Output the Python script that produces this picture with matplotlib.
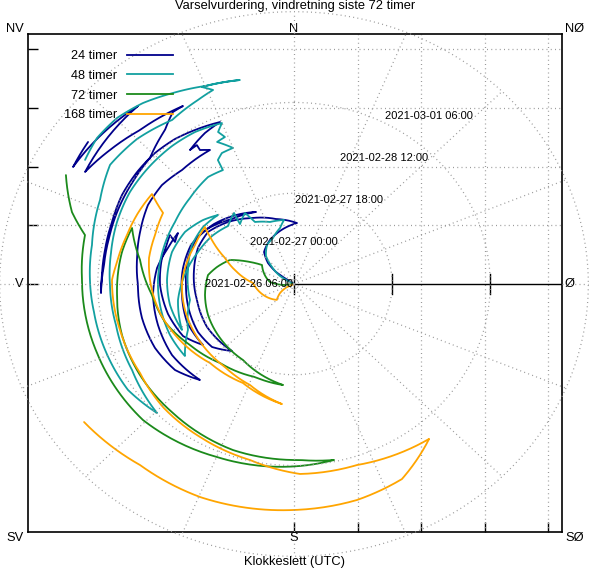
import numpy as np
import matplotlib
matplotlib.use("Agg")
import matplotlib.pyplot as plt
from matplotlib.path import Path
from matplotlib.patches import PathPatch
from matplotlib.lines import Line2D

plt.rcParams["font.family"] = ["Liberation Sans", "DejaVu Sans"]

# ---------------- texts ----------------
TITLE = "Varselvurdering, vindretning siste 72 timer"
XLABEL = "Klokkeslett (UTC)"
series_labels = ["24 timer", "48 timer", "72 timer", "168 timer"]
series_colors = ["#00008b", "#12a0a0", "#1b8a1b", "#ffa500"]
time_labels = ["2021-02-26 06:00", "2021-02-27 00:00", "2021-02-27 18:00",
               "2021-02-28 12:00", "2021-03-01 06:00"]
compass_top = ["NV", "N", "NØ"]
compass_mid = ["V", "Ø"]
compass_bottom = ["SV", "S", "SØ"]

# ---------------- data: wind direction (deg, clockwise from N) and radius ----------------
dir_24 = [304.0, 304.0, 305.8, 311.1, 319.1, 333.2, 349.5, 362.6, 345.6, 329.5,
          315.4, 303.2, 292.1, 278.6, 259.9, 241.9, 220.6, 230.3, 241.6, 255.0,
          269.4, 284.9, 297.1, 309.0, 322.1, 334.0, 318.6, 304.3, 292.3, 278.8,
          264.0, 249.0, 234.1, 243.1, 255.6, 269.5, 282.0, 287.4, 293.1, 290.9,
          295.4, 287.2, 277.2, 265.2, 252.0, 237.8, 222.2, 232.0, 243.6, 256.4,
          269.6, 280.2, 290.1, 300.3, 309.0, 317.7, 329.9, 327.0, 327.1, 324.3,
          331.4, 337.1, 329.3, 322.8, 315.5, 307.6, 299.2, 290.2, 281.0, 272.9,
          267.1, 276.2, 285.1, 294.4, 304.0, 313.4, 322.2, 326.9, 330.0, 317.2,
          308.2, 300.1, 321.0, 299.8, 306.7]
r_24 = [0.0, 0.152, 0.349, 0.543, 0.721, 0.839, 0.952, 1.039, 1.142, 1.303,
        1.481, 1.618, 1.632, 1.593, 1.552, 1.553, 1.501, 1.678, 1.719, 1.712,
        1.701, 1.727, 1.717, 1.622, 1.487, 1.364, 1.475, 1.659, 1.753, 1.769,
        1.774, 1.805, 1.769, 1.959, 2.049, 2.110, 2.126, 2.112, 2.124, 2.006,
        2.023, 2.077, 2.174, 2.228, 2.253, 2.270, 2.205, 2.378, 2.445, 2.463,
        2.457, 2.511, 2.581, 2.664, 2.676, 2.622, 2.637, 2.719, 2.816, 2.808,
        2.928, 2.993, 3.050, 3.099, 3.125, 3.121, 3.104, 3.054, 3.032, 3.028,
        3.043, 3.009, 3.016, 3.045, 3.076, 3.122, 3.316, 3.494, 3.498, 3.571,
        3.688, 3.803, 3.901, 4.009, 4.045]

dir_48 = [298.5, 298.5, 301.7, 309.9, 317.2, 327.4, 337.1, 347.0, 351.8, 340.3,
          329.8, 327.4, 320.2, 322.0, 313.5, 302.3, 289.8, 276.8, 261.5, 246.1,
          259.6, 271.9, 285.8, 297.3, 307.2, 314.4, 304.1, 292.5, 278.1, 260.6,
          244.9, 234.5, 246.0, 260.4, 271.8, 285.7, 299.4, 311.8, 323.4, 330.0,
          330.4, 333.0, 337.5, 333.4, 336.5, 335.2, 337.5, 328.9, 320.7, 311.5,
          301.2, 290.7, 280.4, 269.7, 256.0, 240.1, 224.5, 235.4, 248.7, 261.4,
          271.2, 281.8, 295.1, 305.0, 315.0, 325.5, 334.2, 338.9, 336.6, 346.2,
          337.4, 329.6, 322.3, 315.4, 308.7, 302.7]
r_48 = [0.0, 0.107, 0.259, 0.451, 0.650, 0.788, 0.850, 0.978, 1.100, 1.121,
        1.221, 1.434, 1.328, 1.534, 1.433, 1.528, 1.607, 1.713, 1.847, 1.930,
        1.985, 2.001, 1.997, 1.932, 1.800, 1.677, 1.730, 1.738, 1.686, 1.660,
        1.844, 2.110, 2.137, 2.140, 2.143, 2.143, 2.151, 2.197, 2.269, 2.239,
        2.427, 2.502, 2.507, 2.704, 2.728, 2.850, 2.965, 3.020, 3.034, 3.030,
        3.021, 2.980, 2.930, 2.898, 2.889, 2.941, 3.078, 3.176, 3.179, 3.186,
        3.214, 3.250, 3.373, 3.536, 3.493, 3.388, 3.478, 3.540, 3.653, 3.575,
        3.650, 3.769, 3.892, 3.969, 3.975, 3.910]

dir_72 = [263.2, 263.2, 275.1, 302.7, 298.4, 292.1, 283.4, 276.4, 262.4, 248.7,
          231.7, 211.8, 185.7, 201.2, 220.9, 237.6, 252.3, 265.2, 279.6, 290.5,
          281.4, 266.2, 252.2, 237.4, 221.0, 198.8, 178.2, 168.1, 178.3, 202.4,
          225.8, 249.3, 261.5, 271.2, 284.2, 289.3, 297.3]
r_72 = [0.0, 0.143, 0.380, 0.599, 0.788, 1.088, 1.247, 1.363, 1.414, 1.453,
        1.484, 1.523, 1.728, 1.698, 1.779, 1.939, 2.132, 2.244, 2.459, 2.723,
        2.763, 2.793, 2.845, 2.878, 2.908, 2.985, 2.997, 3.061, 3.099, 3.185,
        3.319, 3.317, 3.328, 3.339, 3.395, 3.705, 4.042]

dir_168 = [245.0, 245.0, 235.0, 225.0, 242.0, 271.5, 282.8, 292.2, 299.3, 304.7,
           293.1, 282.5, 271.1, 255.5, 239.4, 217.6, 202.0, 185.3, 205.5, 224.5,
           243.9, 256.8, 271.7, 281.0, 290.9, 300.4, 304.4, 296.2, 287.6, 277.6,
           271.4, 254.1, 238.0, 224.6, 209.6, 193.0, 178.3, 162.2, 147.8, 141.1,
           152.9, 164.9, 180.2, 202.2, 218.2, 234.6]
r_168 = [0.0, 0.121, 0.268, 0.382, 0.479, 0.646, 0.921, 1.174, 1.462, 1.705,
         1.694, 1.726, 1.764, 1.773, 1.774, 1.783, 1.853, 2.052, 1.867, 1.886,
         2.052, 2.167, 2.269, 2.326, 2.342, 2.391, 2.711, 2.738, 2.759, 2.812,
         2.867, 2.850, 2.859, 2.940, 2.995, 3.075, 3.235, 3.237, 3.340, 3.388,
         3.730, 3.808, 3.847, 3.916, 3.921, 4.056]

ring_radii = [1.545, 3.09, 4.635]
r_ticks = [0.0, 1.545, 3.09]
cart_ticks = [0, 1, 2, 3, 4]

# ---------------- geometry (pixels) ----------------
W, H = 589, 570
CX, CY = 294.0, 284.0          # centre of the polar plot
SX, SY = 63.5, 58.75           # pixels per unit in x and y
FL, FR, FT, FB = 27.5, 562.0, 34.0, 532.0   # frame

fig = plt.figure(figsize=(W / 100, H / 100), dpi=100)
fig.patch.set_facecolor("white")

ax = fig.add_axes([FL / W, (H - FB) / H, (FR - FL) / W, (FB - FT) / H], zorder=0)
xlo, xhi = (FL - CX) / SX, (FR - CX) / SX
ylo, yhi = (CY - FB) / SY, (CY - FT) / SY
ax.set_xlim(xlo, xhi)
ax.set_ylim(ylo, yhi)

RMAX = 4.7
pax = fig.add_axes([(CX - RMAX * SX) / W, (H - CY - RMAX * SY) / H,
                    2 * RMAX * SX / W, 2 * RMAX * SY / H],
                   projection="polar", zorder=1)
pax.set_aspect("auto")
pax.set_theta_zero_location("N")
pax.set_theta_direction(-1)
pax.set_axis_off()

gkw = dict(color="#9a9a9a", lw=0.9, ls=(0, (0.8, 2.6)))

# cartesian grid (inside frame)
for xv in cart_ticks[1:]:
    ax.plot([xv, xv], [ylo, yhi], **gkw)
ax.plot([xlo, xhi], [1, 1], **gkw)
for yv in cart_ticks[2:]:
    ax.plot([-1.65, xhi], [yv, yv], **gkw)

# radial axis towards east
ax.plot([0, xhi], [0, 0], color="black", lw=1.0)
for rt in r_ticks:
    ax.plot([rt, rt], [-0.17, 0.17], color="black", lw=1.0)

ax.set_xticks(cart_ticks)
ax.set_yticks(cart_ticks)
ax.tick_params(direction="in", length=7, width=1.0, labelbottom=False,
               labelleft=False, top=False, right=False)
for sp in ax.spines.values():
    sp.set_linewidth(1.2)

# polar grid (not clipped)
th = np.linspace(0, 2 * np.pi, 721)
for rr in ring_radii:
    pax.plot(th, np.full_like(th, rr), clip_on=False, **gkw)
for k in range(16):
    a = np.deg2rad(k * 22.5)
    r0 = xhi if k == 4 else 0.0
    pax.plot([a, a], [r0, ring_radii[-1]], clip_on=False, **gkw)

# data series
LW = 1.3
for d, r, c in [(dir_24, r_24, series_colors[0]), (dir_48, r_48, series_colors[1]),
                (dir_72, r_72, series_colors[2]), (dir_168, r_168, series_colors[3])]:
    verts = np.column_stack([np.deg2rad(d), r])
    patch = PathPatch(Path(verts, _interpolation_steps=30), fill=False,
                      edgecolor=c, lw=LW, joinstyle="round", capstyle="round",
                      transform=pax.transData)
    pax.add_patch(patch)
pax.set_ylim(0, RMAX)

# time labels
for k, lab in enumerate(time_labels):
    pax.text(-0.709 + 0.709 * k, 0.715 * k, lab, transform=ax.transData,
             ha="center", va="center", fontsize=8, zorder=5)

# compass labels
FS = 9.3
xl, xr = (24 - CX) / SX, (565 - CX) / SX
yt, yb = (CY - 29) / SY, (CY - 538) / SY
ax.text(xl, yt, compass_top[0], ha="right", va="center", fontsize=FS, clip_on=False)
ax.text(0, yt, compass_top[1], ha="center", va="center", fontsize=FS, clip_on=False)
ax.text(xr, yt, compass_top[2], ha="left", va="center", fontsize=FS, clip_on=False)
ax.text(xl, 0, compass_mid[0], ha="right", va="center", fontsize=FS, clip_on=False)
ax.text(xr, 0, compass_mid[1], ha="left", va="center", fontsize=FS, clip_on=False)
ax.text(xl, yb, compass_bottom[0], ha="right", va="center", fontsize=FS, clip_on=False)
ax.text(0, yb, compass_bottom[1], ha="center", va="center", fontsize=FS, clip_on=False)
ax.text(xr, yb, compass_bottom[2], ha="left", va="center", fontsize=FS, clip_on=False)

fig.text(295 / W, 1 - 6.5 / H, TITLE, ha="center", va="center", fontsize=FS)
fig.text(294 / W, 1 - 562 / H, XLABEL, ha="center", va="center", fontsize=FS)

handles = [Line2D([], [], color=c, lw=LW) for c in series_colors]
fig.legend(handles, series_labels, loc="upper left",
           bbox_to_anchor=(64 / W, 1 - 50 / H), bbox_transform=fig.transFigure,
           frameon=False, markerfirst=False, handlelength=3.6, handletextpad=0.8,
           labelspacing=0.61, borderpad=0, borderaxespad=0, fontsize=9.2)

fig.savefig("out.png", dpi=100, facecolor="white")
